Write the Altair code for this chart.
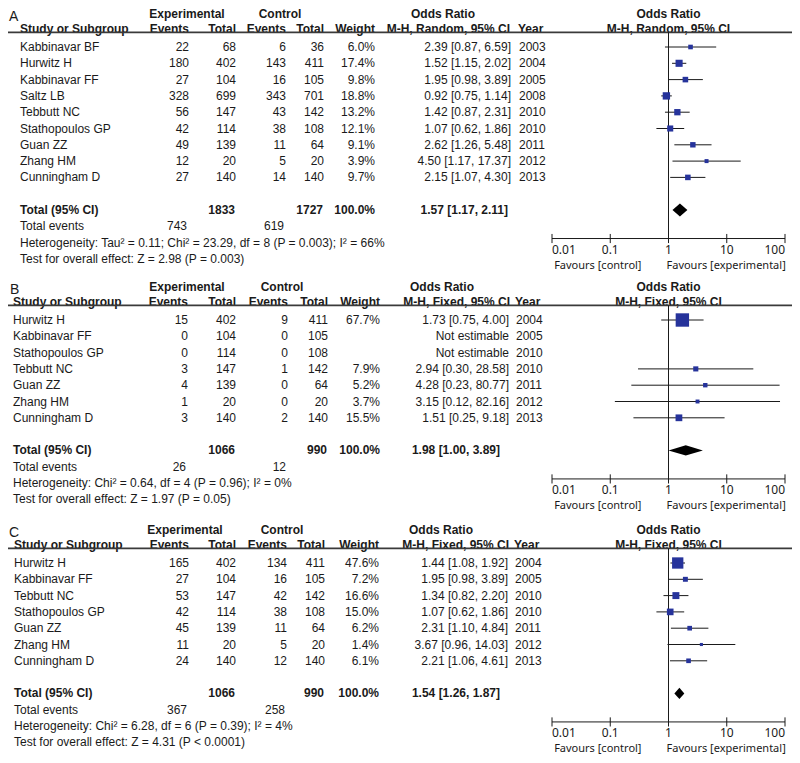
import altair as alt
import pandas as pd

FONT = "Liberation Sans"
AXFONT = "Noto Sans"
INK = "#1a1a1a"
BLUE = "#26339b"
U = 16.3          # pixels per table row
W, H = 784, 747

# ---------------- Panel A (M-H, Random) ----------------
a_study = ["Kabbinavar BF", "Hurwitz H", "Kabbinavar FF", "Saltz LB", "Tebbutt NC",
           "Stathopoulos GP", "Guan ZZ", "Zhang HM", "Cunningham D"]
a_exp_events = [22, 180, 27, 328, 56, 42, 49, 12, 27]
a_exp_total = [68, 402, 104, 699, 147, 114, 139, 20, 140]
a_ctl_events = [6, 143, 16, 343, 43, 38, 11, 5, 14]
a_ctl_total = [36, 411, 105, 701, 142, 108, 64, 20, 140]
a_weight = [6.0, 17.4, 9.8, 18.8, 13.2, 12.1, 9.1, 3.9, 9.7]
a_or = [2.39, 1.52, 1.95, 0.92, 1.42, 1.07, 2.62, 4.50, 2.15]
a_lo = [0.87, 1.15, 0.98, 0.75, 0.87, 0.62, 1.26, 1.17, 1.07]
a_hi = [6.59, 2.02, 3.89, 1.14, 2.31, 1.86, 5.48, 17.37, 4.30]
a_year = [2003, 2004, 2005, 2008, 2010, 2010, 2011, 2012, 2013]
a_total = [1833, 1727]
a_events = [743, 619]
a_summary = [1.57, 1.17, 2.11]
a_het = "Heterogeneity: Tau² = 0.11; Chi² = 23.29, df = 8 (P = 0.003); I² = 66%"
a_test = "Test for overall effect: Z = 2.98 (P = 0.003)"

# ---------------- Panel B (M-H, Fixed) ----------------
b_study = ["Hurwitz H", "Kabbinavar FF", "Stathopoulos GP", "Tebbutt NC", "Guan ZZ",
           "Zhang HM", "Cunningham D"]
b_exp_events = [15, 0, 0, 3, 4, 1, 3]
b_exp_total = [402, 104, 114, 147, 139, 20, 140]
b_ctl_events = [9, 0, 0, 1, 0, 0, 2]
b_ctl_total = [411, 105, 108, 142, 64, 20, 140]
b_weight = [67.7, None, None, 7.9, 5.2, 3.7, 15.5]
b_or = [1.73, None, None, 2.94, 4.28, 3.15, 1.51]
b_lo = [0.75, None, None, 0.30, 0.23, 0.12, 0.25]
b_hi = [4.00, None, None, 28.58, 80.77, 82.16, 9.18]
b_year = [2004, 2005, 2010, 2010, 2011, 2012, 2013]
b_total = [1066, 990]
b_events = [26, 12]
b_summary = [1.98, 1.00, 3.89]
b_het = "Heterogeneity: Chi² = 0.64, df = 4 (P = 0.96); I² = 0%"
b_test = "Test for overall effect: Z = 1.97 (P = 0.05)"

# ---------------- Panel C (M-H, Fixed) ----------------
c_study = ["Hurwitz H", "Kabbinavar FF", "Tebbutt NC", "Stathopoulos GP", "Guan ZZ",
           "Zhang HM", "Cunningham D"]
c_exp_events = [165, 27, 53, 42, 45, 11, 24]
c_exp_total = [402, 104, 147, 114, 139, 20, 140]
c_ctl_events = [134, 16, 42, 38, 11, 5, 12]
c_ctl_total = [411, 105, 142, 108, 64, 20, 140]
c_weight = [47.6, 7.2, 16.6, 15.0, 6.2, 1.4, 6.1]
c_or = [1.44, 1.95, 1.34, 1.07, 2.31, 3.67, 2.21]
c_lo = [1.08, 0.98, 0.82, 0.62, 1.10, 0.96, 1.06]
c_hi = [1.92, 3.89, 2.20, 1.86, 4.84, 14.03, 4.61]
c_year = [2004, 2005, 2010, 2010, 2011, 2012, 2013]
c_total = [1066, 990]
c_events = [367, 258]
c_summary = [1.54, 1.26, 1.87]
c_het = "Heterogeneity: Chi² = 6.28, df = 6 (P = 0.39); I² = 4%"
c_test = "Test for overall effect: Z = 4.31 (P < 0.0001)"

tick_values = [0.01, 0.1, 1, 10, 100]
tick_labels = ["0.01", "0.1", "1", "10", "100"]

panels = [
    dict(letter="A", method="M-H, Random, 95% CI", row0=47,
         study=a_study, ee=a_exp_events, et=a_exp_total, ce=a_ctl_events, ct=a_ctl_total,
         w=a_weight, orv=a_or, lo=a_lo, hi=a_hi, yr=a_year, total=a_total, events=a_events,
         summary=a_summary, het=a_het, test=a_test, dh=0.40,
         cols=dict(letter=9, name=20, ee=189, et=236, ce=286, ct=324, w=375, orr=511, yr=519,
                   ortot=508, exp=187, ctl=280, orh=443, meth=510, yrh=518)),
    dict(letter="B", method="M-H, Fixed, 95% CI", row0=320,
         study=b_study, ee=b_exp_events, et=b_exp_total, ce=b_ctl_events, ct=b_ctl_total,
         w=b_weight, orv=b_or, lo=b_lo, hi=b_hi, yr=b_year, total=b_total, events=b_events,
         summary=b_summary, het=b_het, test=b_test, dh=0.32,
         cols=dict(letter=10, name=13, ee=188, et=236, ce=288, ct=328, w=380, orr=509, yr=516,
                   ortot=500, exp=187, ctl=282, orh=442, meth=510, yrh=515)),
    dict(letter="C", method="M-H, Fixed, 95% CI", row0=563,
         study=c_study, ee=c_exp_events, et=c_exp_total, ce=c_ctl_events, ct=c_ctl_total,
         w=c_weight, orv=c_or, lo=c_lo, hi=c_hi, yr=c_year, total=c_total, events=c_events,
         summary=c_summary, het=c_het, test=c_test, dh=0.34,
         cols=dict(letter=9, name=14, ee=189, et=236, ce=287, ct=325, w=379, orr=508, yr=515,
                   ortot=500, exp=185, ctl=282, orh=441, meth=509, yrh=514)),
]

yscale = alt.Scale(domain=[0, H / U], range=[0, H], nice=False, zero=False)
xscale = alt.Scale(type="log", domain=[0.01, 100], range=[544, 777], nice=False)
Y = alt.Y("Y:Q", scale=yscale, axis=None)


def text_layer(df, field, x, align="left", bold=False, size=12, font=FONT):
    return alt.Chart(df).mark_text(
        align=align, baseline="middle", font=font, fontSize=size,
        fontWeight="bold" if bold else "normal", color=INK
    ).encode(x=alt.value(x - 8), y=Y, text=alt.Text(f"{field}:N"))


layers = []
forest_rows, vlines, hlines, axes, ticks, diamonds, favs = [], [], [], [], [], [], []

for pi, p in enumerate(panels):
    base = (p["row0"] - 8) / U
    n = len(p["study"])
    c = p["cols"]
    rows = []
    for i in range(n):
        w = p["w"][i]
        o = p["orv"][i]
        rows.append(dict(
            Y=base + i, name=p["study"][i], ee=str(p["ee"][i]), et=str(p["et"][i]),
            ce=str(p["ce"][i]), ct=str(p["ct"][i]),
            w="" if w is None else f"{w:.1f}%",
            ors="Not estimable" if o is None else f"{o:.2f} [{p['lo'][i]:.2f}, {p['hi'][i]:.2f}]",
            yr=str(p["yr"][i])))
        if o is not None:
            forest_rows.append(dict(Y=base + i, orv=o, lo=p["lo"][i], hi=p["hi"][i], w=w))
    rdf = pd.DataFrame(rows)
    for field, key, align in [("name", "name", "left"), ("ee", "ee", "right"), ("et", "et", "right"),
                              ("ce", "ce", "right"), ("ct", "ct", "right"), ("w", "w", "right"),
                              ("ors", "orr", "right"), ("yr", "yr", "left")]:
        layers.append(text_layer(rdf, field, c[key], align))

    # headers
    h1 = pd.DataFrame([dict(Y=base - 2.02, letter=p["letter"], exp="Experimental",
                            ctl="Control", orh="Odds Ratio")])
    h0 = pd.DataFrame([dict(Y=base - 1.87, letter=p["letter"])])
    h2 = pd.DataFrame([dict(Y=base - 1.13, s="Study or Subgroup", ev="Events", tot="Total",
                            wt="Weight", meth=p["method"], yr="Year")])
    layers.append(text_layer(h0, "letter", c["letter"], "left", size=14))
    layers.append(text_layer(h1, "exp", c["exp"], "center", True))
    layers.append(text_layer(h1, "ctl", c["ctl"], "center", True))
    layers.append(text_layer(h1, "orh", c["orh"], "center", True))
    layers.append(text_layer(h2, "s", c["name"], "left", True))
    layers.append(text_layer(h2, "ev", c["ee"], "right", True))
    layers.append(text_layer(h2, "tot", c["et"], "right", True))
    layers.append(text_layer(h2, "ev", c["ce"], "right", True))
    layers.append(text_layer(h2, "tot", c["ct"], "right", True))
    layers.append(text_layer(h2, "wt", c["w"], "right", True))
    layers.append(text_layer(h2, "meth", c["meth"], "right", True))
    layers.append(text_layer(h2, "yr", c["yrh"], "left", True))

    # totals
    s = p["summary"]
    tdf = pd.DataFrame([dict(Y=base + n + 1, lab="Total (95% CI)", et=str(p["total"][0]),
                             ct=str(p["total"][1]), w="100.0%",
                             ors=f"{s[0]:.2f} [{s[1]:.2f}, {s[2]:.2f}]")])
    layers.append(text_layer(tdf, "lab", c["name"], "left", True))
    layers.append(text_layer(tdf, "et", c["et"] - 1, "right", True))
    layers.append(text_layer(tdf, "ct", c["ct"] - 1, "right", True))
    layers.append(text_layer(tdf, "w", c["w"], "right", True))
    layers.append(text_layer(tdf, "ors", c["ortot"], "right", True))
    edf = pd.DataFrame([dict(Y=base + n + 2, lab="Total events", ee=str(p["events"][0]),
                             ce=str(p["events"][1]))])
    layers.append(text_layer(edf, "lab", c["name"], "left"))
    layers.append(text_layer(edf, "ee", c["ee"] - 2, "right"))
    layers.append(text_layer(edf, "ce", c["ce"] - 2, "right"))
    sdf = pd.DataFrame([dict(Y=base + n + 3, lab=p["het"]), dict(Y=base + n + 4, lab=p["test"])])
    layers.append(text_layer(sdf, "lab", c["name"], "left"))

    # right-hand forest header
    fh = pd.DataFrame([dict(Y=base - 2.02, x=1, lab="Odds Ratio"),
                       dict(Y=base - 1.13, x=1, lab=p["method"])])
    layers.append(alt.Chart(fh).mark_text(font=FONT, fontSize=12, fontWeight="bold", color=INK,
                                          baseline="middle").encode(
        x=alt.X("x:Q", scale=xscale, axis=None), y=Y, text="lab:N"))

    ay = base + n + 2.75
    hlines.append(dict(Y=base - 0.9))
    vlines.append(dict(x=1, y0=base - 0.9, y1=ay))
    axes.append(dict(Y=ay, x0=tick_values[0], x1=tick_values[-1]))
    for k, (t, lab) in enumerate(zip(tick_values, tick_labels)):
        pos = "first" if k == 0 else ("last" if k == len(tick_values) - 1 else "mid")
        ticks.append(dict(x=t, Y=ay, ya=ay - 0.28, yb=ay + 0.28, lab=lab, pos=pos))
    for xv, half in [(s[1], 0.0), (s[0], p["dh"]), (s[2], 0.0)]:
        diamonds.append(dict(panel=p["letter"], x=xv, ya=base + n + 1 - half, yb=base + n + 1 + half))
    favs.append(dict(x=1, Y=ay, l="Favours [control]", r="Favours [experimental]"))

X = lambda f: alt.X(f"{f}:Q", scale=xscale, axis=None)

hl = alt.Chart(pd.DataFrame(hlines)).mark_rule(color="#3a3a3a", strokeWidth=1.6).encode(
    x=alt.value(0), x2=alt.value(W), y=Y)
vl = alt.Chart(pd.DataFrame(vlines)).mark_rule(color=INK, strokeWidth=1).encode(
    x=X("x"), y=alt.Y("y0:Q", scale=yscale, axis=None), y2="y1:Q")
ax = alt.Chart(pd.DataFrame(axes)).mark_rule(color=INK, strokeWidth=1).encode(
    x=X("x0"), x2="x1:Q", y=Y)
tdf_all = pd.DataFrame(ticks)
tk = alt.Chart(tdf_all).mark_rule(color=INK, strokeWidth=1).encode(
    x=X("x"), y=alt.Y("ya:Q", scale=yscale, axis=None), y2="yb:Q")
tick_text_layers = []
for pos, align in [("first", "left"), ("mid", "center"), ("last", "right")]:
    tick_text_layers.append(
        alt.Chart(tdf_all[tdf_all["pos"] == pos]).mark_text(
            font=AXFONT, fontSize=12, color=INK, dy=11, baseline="middle", align=align
        ).encode(x=X("x"), y=Y, text="lab:N"))
fdf = pd.DataFrame(favs)
fl = alt.Chart(fdf).mark_text(font=AXFONT, fontSize=11, color=INK, dy=27, dx=-27,
                              align="right", baseline="middle").encode(x=X("x"), y=Y, text="l:N")
fr = alt.Chart(fdf).mark_text(font=AXFONT, fontSize=11, color=INK, dy=27, dx=-2,
                              align="left", baseline="middle").encode(x=X("x"), y=Y, text="r:N")

frdf = pd.DataFrame(forest_rows)
ci = alt.Chart(frdf).mark_rule(color=INK, strokeWidth=1).encode(x=X("lo"), x2="hi:Q", y=Y)
sq = alt.Chart(frdf).mark_square(color=BLUE, opacity=1, filled=True).encode(
    x=X("orv"), y=Y,
    size=alt.Size("w:Q", scale=alt.Scale(domain=[0, 100], range=[6, 262]), legend=None))
dm = alt.Chart(pd.DataFrame(diamonds)).mark_area(color="black", opacity=1).encode(
    x=X("x"), y=alt.Y("ya:Q", scale=yscale, axis=None), y2="yb:Q", detail="panel:N")

chart = alt.layer(*layers, hl, vl, ax, tk, *tick_text_layers, fl, fr, ci, sq, dm).properties(
    width=W, height=H, padding=0, autosize=alt.AutoSizeParams(type="none")
).configure_view(stroke=None)

chart.save("out.html", embed_options={"renderer": "svg", "actions": False})
